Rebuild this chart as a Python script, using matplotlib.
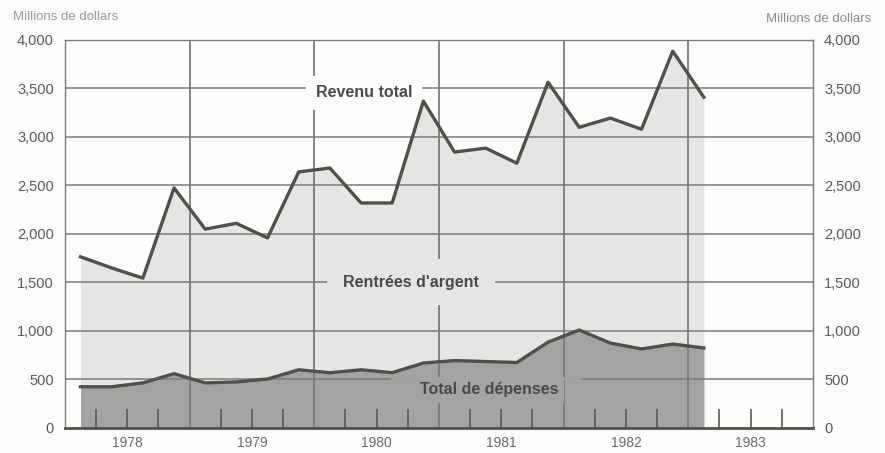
import numpy as np
import matplotlib.pyplot as plt

# quarterly data, 1978 T1 .. 1983 T1
quarters = ['1978T1', '1978T2', '1978T3', '1978T4',
            '1979T1', '1979T2', '1979T3', '1979T4',
            '1980T1', '1980T2', '1980T3', '1980T4',
            '1981T1', '1981T2', '1981T3', '1981T4',
            '1982T1', '1982T2', '1982T3', '1982T4',
            '1983T1']
revenu_total = [1765, 1650, 1545, 2475, 2050, 2110, 1960, 2640, 2680, 2320,
                2320, 3370, 2845, 2885, 2730, 3565, 3100, 3195, 3080, 3885,
                3410]
total_depenses = [425, 425, 465, 560, 465, 475, 505, 600, 570, 600,
                  570, 670, 695, 685, 675, 885, 1010, 875, 815, 865,
                  825]
year_labels = ['1978', '1979', '1980', '1981', '1982', '1983']
y_ticks = [0, 500, 1000, 1500, 2000, 2500, 3000, 3500, 4000]
y_ticklabels = ['0', '500', '1,000', '1,500', '2,000', '2,500', '3,000', '3,500', '4,000']

LINE = '#4d524d'
GRID = '#7a7c7a'
LIGHT = '#e5e5e3'
DARK = '#a3a3a1'
TXT = '#5a5a5a'


def main():
    x = np.array([int(q[:4]) + (int(q[-1]) - 0.5) / 4 for q in quarters])
    first_year = int(year_labels[0])
    x0, x1 = first_year, first_year + len(year_labels)

    plt.rcParams['font.family'] = ['Liberation Sans', 'DejaVu Sans']
    fig = plt.figure(figsize=(8.85, 4.53), dpi=100, facecolor='#fcfcfa')
    ax = fig.add_axes([0.0734, 0.0552, 0.8452, 0.8565])
    ax.set_facecolor('#fcfcfa')

    # fills
    ax.fill_between(x, 0, revenu_total, color=LIGHT, lw=0, zorder=1)
    ax.fill_between(x, 0, total_depenses, color=DARK, lw=0, zorder=1.5)

    # grid
    for v in y_ticks[1:-1]:
        ax.axhline(v, color=GRID, lw=1.1, zorder=2)
    for yr in range(x0 + 1, x1):
        ax.axvline(yr, color=GRID, lw=1.3, zorder=2)
    # quarter ticks
    for yr in range(x0, x1):
        for q in (0.25, 0.5, 0.75):
            ax.plot([yr + q, yr + q], [0, 190], color='#555955', lw=1.2, zorder=2)

    ax.plot(x, revenu_total, color=LINE, lw=2.4, zorder=4)
    ax.plot(x, total_depenses, color=LINE, lw=2.4, zorder=4)

    # labels
    kw = dict(fontsize=11.5, fontweight='bold', color='#4a4a4a', ha='center', va='center', zorder=3)
    ax.text(1980.40, 3455, 'Revenu total',
            bbox=dict(boxstyle='square,pad=0.6', fc='#fcfcfa', ec='none'), **kw)
    ax.text(1980.775, 1505, "Rentrées d'argent",
            bbox=dict(boxstyle='square,pad=1.0', fc=LIGHT, ec='none'), **kw)
    ax.text(1981.40, 392, 'Total de dépenses',
            bbox=dict(boxstyle='square,pad=0.35', fc=DARK, ec='none'), **kw)
    # gap in the 500 line around the expenditure label
    ax.plot([1980.62, 1982.12], [500, 500], color=DARK, lw=2, zorder=2.5)

    ax.set_xlim(x0, x1)
    ax.set_ylim(0, 4000)
    ax.set_yticks(y_ticks)
    ax.set_yticklabels(y_ticklabels)
    ax.set_xticks([yr + 0.5 for yr in range(x0, x1)])
    ax.set_xticklabels(year_labels)
    ax.tick_params(axis='both', length=0, labelsize=10.5, labelcolor=TXT, pad=8)
    ax.tick_params(axis='x', pad=6, labelsize=10, labelcolor='#6a6a6a')

    for s in ('left', 'right', 'top'):
        ax.spines[s].set_color(GRID)
        ax.spines[s].set_linewidth(1.0)
    ax.spines['bottom'].set_color('#4d524d')
    ax.spines['bottom'].set_linewidth(2.0)

    ax2 = ax.twinx()
    ax2.set_ylim(0, 4000)
    ax2.set_yticks(y_ticks)
    ax2.set_yticklabels(y_ticklabels)
    ax2.tick_params(axis='y', length=0, labelsize=10.5, labelcolor=TXT, pad=8)
    for s in ax2.spines.values():
        s.set_visible(False)

    fig.text(0.015, 0.963, 'Millions de dollars', fontsize=9.5, color='#9a9a9a', ha='left', va='center')
    fig.text(0.985, 0.958, 'Millions de dollars', fontsize=9.5, color='#8a8a8a', ha='right', va='center')

    fig.savefig('out.png', dpi=100, facecolor=fig.get_facecolor())


if __name__ == '__main__':
    main()
